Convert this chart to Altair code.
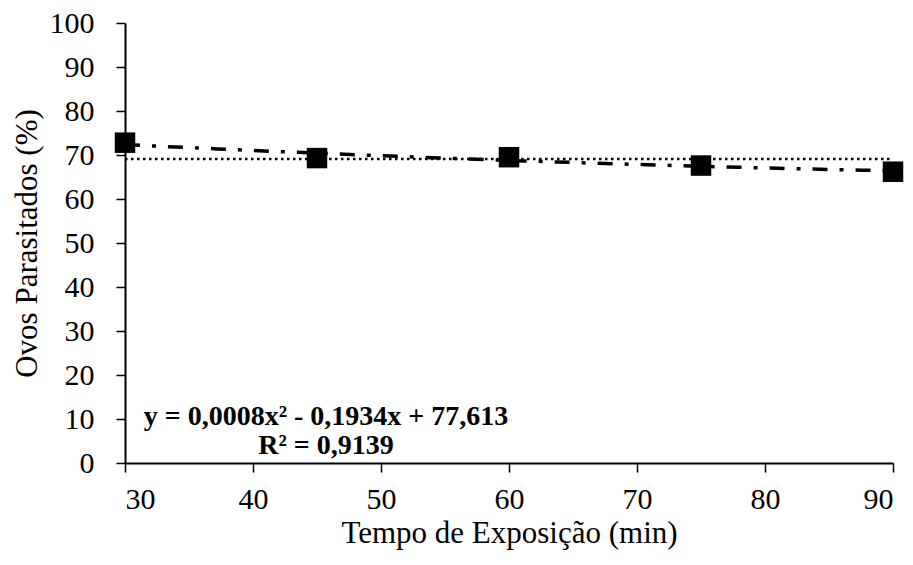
import altair as alt
import pandas as pd

tempo = [30, 45, 60, 75, 90]
ovos = [72.8, 69.3, 69.5, 67.6, 66.2]
eq_lines = ["y = 0,0008x² - 0,1934x + 77,613", "R² = 0,9139"]

df = pd.DataFrame({"Tempo": tempo, "Ovos": ovos})
FONT = "Liberation Serif"

xscale = alt.Scale(domain=[30, 90], nice=False, zero=False)
yscale = alt.Scale(domain=[0, 100], nice=False)
x = alt.X("Tempo:Q", scale=xscale,
          axis=alt.Axis(values=list(range(30, 91, 10)), title="Tempo de Exposição (min)"))
y = alt.Y("Ovos:Q", scale=yscale,
          axis=alt.Axis(values=list(range(0, 101, 10)), title="Ovos Parasitados (%)"))

base = alt.Chart(df)

points = base.mark_square(color="black", size=420, opacity=1).encode(x=x, y=y)

trend = base.transform_regression(
    "Tempo", "Ovos", method="poly", order=2, extent=[30, 90]
).mark_line(color="black", strokeWidth=3.5, strokeDash=[15, 12, 4, 12]).encode(
    x=alt.X("Tempo:Q", scale=xscale), y=alt.Y("Ovos:Q", scale=yscale))

mean_line = base.transform_aggregate(
    media="mean(Ovos)", xmin="min(Tempo)", xmax="max(Tempo)"
).mark_rule(color="black", strokeWidth=2.5, strokeDash=[2.5, 3.5]).encode(
    x=alt.X("xmin:Q", scale=xscale), x2="xmax:Q", y=alt.Y("media:Q", scale=yscale)
)

def eq_text(i, ypix):
    d = pd.DataFrame({"t": [eq_lines[i]]})
    return alt.Chart(d).mark_text(font=FONT, fontSize=28, fontWeight="bold", color="black",
                                  align="center", baseline="middle").encode(
        text="t:N", x=alt.value(201), y=alt.value(ypix))

chart = alt.layer(points, trend, mean_line, eq_text(0, 394), eq_text(1, 423)).properties(
    width=768, height=440,
    autosize=alt.AutoSizeParams(type="none"),
    padding={"left": 117, "top": 15, "right": 12, "bottom": 98},
).configure_view(stroke=None).configure_axis(
    grid=False, domainColor="black", domainWidth=2, tickColor="black", tickWidth=1.5,
    tickSize=9, labelFont=FONT, labelFontSize=30, labelColor="black", titleFont=FONT,
    titleFontSize=31, titleFontWeight="normal", titleColor="black",
).configure_axisY(titlePadding=6, labelPadding=22).configure_axisX(titlePadding=4, labelPadding=12)

chart.save("out.html", embed_options={"renderer": "svg", "actions": False})
